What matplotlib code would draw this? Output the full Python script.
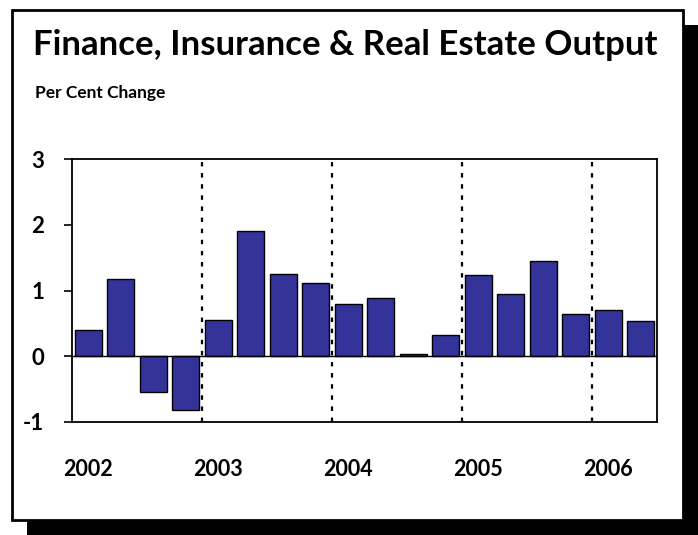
import matplotlib.pyplot as plt
from matplotlib.patches import Rectangle

quarters = ['2002Q1', '2002Q2', '2002Q3', '2002Q4',
            '2003Q1', '2003Q2', '2003Q3', '2003Q4',
            '2004Q1', '2004Q2', '2004Q3', '2004Q4',
            '2005Q1', '2005Q2', '2005Q3', '2005Q4',
            '2006Q1', '2006Q2']
change = [0.40, 1.18, -0.54, -0.82, 0.55, 1.90, 1.25, 1.12,
          0.80, 0.89, 0.03, 0.33, 1.23, 0.95, 1.45, 0.65,
          0.70, 0.53]
years = ['2002', '2003', '2004', '2005', '2006']
year_pos = [0, 4, 8, 12, 16]
year_breaks = [3.5, 7.5, 11.5, 15.5]

plt.rcParams['font.family'] = ['Lato', 'DejaVu Sans']

fig = plt.figure(figsize=(6.98, 5.35), dpi=100)
W, H = 698, 535

# drop shadow and frame
fig.patches.append(Rectangle((27 / W, 0), 1 - 27 / W, 1 - 25 / H,
                             transform=fig.transFigure, facecolor='black',
                             edgecolor='none', zorder=0))
fig.patches.append(Rectangle((12 / W, 1 - 520 / H), 671 / W, 510 / H,
                             transform=fig.transFigure, facecolor='white',
                             edgecolor='black', linewidth=2, zorder=1))

ax = fig.add_axes([72 / W, 1 - 422 / H, 585 / W, 263 / H])
ax.set_zorder(2)
x = list(range(len(change)))
ax.bar(x, change, width=0.84, color='#333399', edgecolor='black',
       linewidth=1, zorder=3)
ax.axhline(0, color='black', linewidth=1, zorder=4)
for b in year_breaks:
    ax.axvline(b, color='black', linestyle=(0, (2, 3)), linewidth=1.6, zorder=2)

ax.set_xlim(-0.5, len(change) - 0.5)
ax.set_ylim(-1, 3)
ax.set_yticks([-1, 0, 1, 2, 3])
ax.set_yticklabels(['-1', '0', '1', '2', '3'], fontsize=16, fontweight='bold')
ax.tick_params(axis='y', direction='out', length=6, width=1.2, pad=14)
ax.set_xticks(year_pos)
ax.set_xticklabels(years, fontsize=15.5, fontweight='bold')
ax.tick_params(axis='x', length=0, pad=27)
for s in ax.spines.values():
    s.set_linewidth(1.3)

fig.text(345 / W, 1 - 45 / H, 'Finance, Insurance & Real Estate Output',
         ha='center', va='center', fontsize=25, fontweight='bold', zorder=3)
fig.text(35 / W, 1 - 93 / H, 'Per Cent Change', ha='left', va='center',
         fontsize=12.5, fontweight='bold', zorder=3)

fig.savefig('out.png', dpi=100)
